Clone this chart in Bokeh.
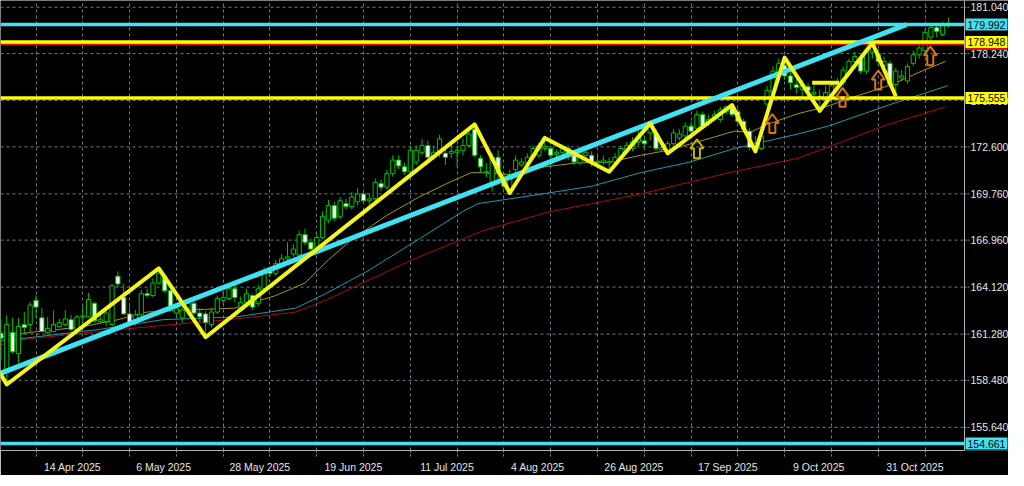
from bokeh.plotting import figure
from bokeh.models import Range1d, FixedTicker, Label
from bokeh.core.properties import value
from bokeh.embed import file_html
from bokeh.resources import INLINE

# ---------------- data ----------------
bar_open = [161.33,159.04,161.38,160.10,161.86,161.86,163.32,162.26,161.38,161.44,
            161.74,161.86,162.15,161.56,162.32,162.32,163.14,162.03,162.03,161.86,
            164.78,163.49,162.50,161.97,162.44,163.72,163.61,164.37,164.78,163.90,
            162.55,162.26,162.85,163.14,162.55,162.50,161.86,162.61,163.32,163.43,
            164.02,162.91,163.20,163.61,163.14,164.02,165.07,164.95,165.37,165.83,
            166.12,166.06,167.29,166.83,166.54,167.12,168.17,169.05,168.40,169.17,
            168.99,169.28,169.75,169.34,169.46,170.39,170.16,170.98,171.80,171.39,
            171.10,171.68,172.27,172.68,172.03,172.21,172.21,172.21,172.27,172.39,
            172.68,173.67,171.91,171.04,170.45,171.97,170.63,170.04,171.22,171.51,
            171.63,171.97,172.09,172.50,172.50,172.15,172.27,172.50,172.09,171.63,
            172.09,172.09,171.68,171.68,171.63,171.68,171.97,172.39,172.50,172.91,
            172.97,173.44,173.44,172.44,172.39,172.79,173.14,173.26,173.85,173.73,
            174.55,174.02,174.31,174.25,174.72,175.02,174.72,174.14,173.55,172.50,
            172.50,175.19,175.89,176.95,177.53,176.89,176.36,176.07,176.24,175.78,
            175.66,175.48,175.72,176.19,176.48,177.06,177.76,177.94,177.18,178.35,
            178.23,177.53,177.65,176.36,176.77,176.59,177.65,178.17,178.41,179.23,
            179.81,179.40,179.93]
bar_close = [161.03,161.86,160.21,161.74,161.68,163.03,162.91,161.44,161.62,161.86,
             161.97,162.20,161.56,162.32,162.38,163.37,162.09,162.15,162.55,164.20,
             164.31,162.50,161.97,162.44,163.72,163.61,164.37,164.95,163.90,162.91,
             162.85,162.73,163.14,162.55,162.32,161.97,162.61,163.43,163.49,164.02,
             163.49,163.20,163.72,162.91,164.02,165.07,164.95,165.54,165.83,165.95,
             166.42,167.29,166.83,166.42,167.12,168.40,169.05,168.29,169.34,168.99,
             169.57,169.75,169.34,169.46,170.45,170.16,170.98,171.80,171.45,171.10,
             172.39,172.39,172.68,171.97,172.27,173.08,171.97,172.33,172.39,172.68,
             173.38,172.09,171.39,171.10,171.97,171.04,170.22,170.92,171.80,171.68,
             171.97,172.50,172.68,172.62,172.09,172.27,172.56,172.03,171.68,172.27,
             172.27,171.68,171.74,171.80,171.68,171.97,172.50,172.68,172.91,173.26,
             172.79,173.85,172.50,172.56,172.79,173.44,173.38,173.85,173.55,174.55,
             173.85,174.25,174.55,174.84,175.02,174.55,174.14,173.67,172.56,172.79,
             173.26,176.01,177.18,177.65,176.89,176.48,176.19,176.30,176.01,175.89,
             175.54,175.89,176.30,176.48,177.24,177.76,178.06,177.18,178.35,178.64,
             177.76,177.76,176.36,177.18,176.89,177.47,178.17,178.58,179.52,179.81,
             179.58,179.93,180.05]
bar_high = [162.15,162.44,162.26,162.26,162.61,163.20,163.61,162.85,162.32,162.73,
            162.20,162.73,162.44,162.44,163.03,163.78,163.20,162.55,162.67,164.31,
            165.07,164.31,163.14,162.73,163.96,164.02,164.66,165.25,164.95,164.02,
            163.09,162.97,163.32,163.26,162.85,162.67,162.85,163.61,163.90,164.37,
            164.26,163.55,164.02,163.72,164.26,165.31,165.37,165.77,166.12,166.83,
            166.71,167.53,167.65,167.06,167.41,168.70,169.40,169.28,169.57,169.46,
            169.87,170.11,170.00,169.81,170.69,170.63,171.22,172.09,172.09,171.63,
            172.68,172.68,173.08,172.97,172.68,173.32,172.50,172.79,172.68,173.08,
            173.67,173.96,172.09,171.63,172.21,172.39,171.04,171.22,172.09,171.91,
            172.21,172.68,172.85,173.14,172.68,172.44,172.74,172.68,172.27,172.50,
            172.56,172.33,172.09,172.09,171.97,172.21,172.68,172.91,173.20,173.55,
            173.26,174.02,173.67,172.79,172.97,173.67,173.67,174.08,174.14,174.78,
            174.72,174.55,174.78,175.02,175.08,175.13,174.90,174.31,173.73,173.26,
            173.49,176.30,177.47,177.94,178.00,177.24,176.77,176.65,176.48,176.30,
            176.07,176.30,176.48,176.77,177.47,177.94,178.35,178.17,178.58,178.88,
            178.53,178.06,177.82,177.36,177.24,177.65,178.41,178.82,179.70,180.05,
            180.05,180.16,180.40]
bar_low = [159.69,158.23,160.10,159.52,161.27,161.38,162.26,161.38,161.27,161.38,
           161.68,161.74,161.44,161.27,161.97,162.26,161.97,161.97,161.74,161.74,
           164.08,162.44,161.86,161.80,162.32,163.49,163.49,164.26,163.78,162.73,
           162.38,161.97,162.55,162.44,161.97,161.09,161.68,162.50,163.09,163.32,
           163.20,162.73,162.97,162.73,162.97,163.90,164.72,164.78,165.25,165.66,
           165.95,165.89,166.65,166.24,166.36,167.00,168.00,168.12,168.23,168.81,
           168.81,169.05,169.17,169.11,169.34,169.93,170.00,170.80,171.27,170.92,
           170.92,171.51,172.09,171.57,171.80,171.97,171.51,171.91,171.39,172.09,
           172.56,171.97,171.04,170.75,169.90,170.34,170.04,169.81,170.92,171.39,
           171.39,171.80,171.91,172.33,171.39,171.97,172.09,171.80,171.51,171.51,
           171.91,171.39,171.39,171.51,171.10,171.51,171.80,172.21,172.33,172.68,
           172.56,172.97,172.33,172.27,172.21,172.68,172.97,173.08,173.38,173.61,
           173.67,173.85,174.14,174.08,174.55,174.43,173.96,173.49,172.39,172.33,
           172.39,175.02,175.78,176.77,176.65,176.07,175.83,175.66,175.60,175.37,
           174.78,175.31,175.25,176.01,176.30,176.89,177.59,177.00,177.00,177.94,
           177.53,177.24,176.19,175.66,176.59,176.42,177.47,177.94,178.23,178.99,
           179.23,179.29,179.81]

# moving averages (bar index, price)
ma_fast_idx = [0, 5, 10, 15, 20, 25, 32, 40, 47, 52, 56, 60, 66, 71.5, 77, 80.4, 82.4, 87, 93,
               98.4, 104, 109.4, 114, 119.8, 125.4, 128.2, 131, 136.3, 141, 146.7, 152.3, 157.8, 161.5]
ma_fast_val = [161.09, 161.38, 161.56, 161.80, 162.15, 162.61, 162.73, 162.85, 163.61, 164.37, 165.77,
               167.00, 168.46, 169.57, 170.51, 171.04, 171.04, 170.92, 171.39, 171.63, 171.68, 172.09,
               172.39, 172.97, 173.55, 173.49, 173.96, 174.61, 175.02, 175.72, 176.36, 177.24, 177.76]
ma_mid_idx = [0, 5.5, 16.8, 27.7, 40.3, 50.4, 55.5, 62.6, 69.8, 79, 81.6, 92.5, 101, 109.4, 117.8,
              125.4, 136.3, 141.4, 152.3, 161.9]
ma_mid_val = [160.86, 161.09, 161.56, 162.15, 162.32, 162.85, 163.72, 165.07, 166.65, 168.70, 169.17,
              169.75, 170.22, 171.04, 171.68, 172.50, 173.38, 173.85, 175.19, 176.30]
ma_slow_idx = [0, 4.5, 16.8, 27.7, 40.3, 50.4, 55.5, 70.3, 82.4, 93.4, 109.4, 124.5, 136.3, 151.8, 161.5]
ma_slow_val = [160.62, 160.98, 161.44, 161.80, 162.20, 162.61, 163.32, 165.77, 167.53, 168.64, 169.75,
               171.04, 171.91, 173.96, 175.02]

# zigzag swing points (bar index, price)
zz_idx = [-1.2, 1, 27, 35, 81, 87, 93, 104, 111, 114, 125, 129, 134, 140, 149, 153]
zz_val = [159.57, 158.23, 165.25, 161.09, 173.96, 169.81, 173.14, 171.10, 174.02, 172.21,
          175.13, 172.33, 178.00, 174.78, 178.88, 175.66]
flat_seg_idx = [138.7, 143.3]
flat_seg_val = [176.48, 176.48]

# trend channel line (bar index, price)
trend_idx = [-3, 154.8]
trend_val = [158.51, 179.99]

# horizontal levels
cyan_levels = [179.992, 154.661]
yellow_levels = [178.948, 175.555]
red_level = 178.85

# signal arrows (bar index, base price)
arrow_idx = [119, 131.9, 143.9, 150, 158.9]
arrow_val = [171.91, 173.44, 175.02, 176.07, 177.53]
arrow_col = ["#c8b400", "#d9731a", "#d9731a", "#d9731a", "#d9731a"]

# axis ticks
price_ticks = [155.64, 158.48, 161.28, 164.12, 166.96, 169.76, 172.60, 175.40, 178.24, 181.04]
date_tick_idx = [6, 22, 38, 54, 70, 86, 102, 118, 134, 150]
date_labels = ["14 Apr 2025", "6 May 2025", "28 May 2025", "19 Jun 2025", "11 Jul 2025",
               "4 Aug 2025", "26 Aug 2025", "17 Sep 2025", "9 Oct 2025", "31 Oct 2025"]
grid_idx = [6, 14, 22, 30, 38, 46, 54, 62, 70, 78, 86, 94, 102, 110, 118, 126, 134, 142, 150, 158]

# ---------------- layout constants ----------------
TOTAL_W, FRAME_H, BOTTOM = 1008, 450, 20
PLOT_W = 964                      # width of the price area inside the frame
X0, X1 = -0.07, 164.75            # visible bar range of the price area
Y0, Y1 = 154.24, 181.45
sx = (X1 - X0) / PLOT_W
sy = (Y1 - Y0) / FRAME_H
XE = X0 + TOTAL_W * sx            # right end of the frame (axis strip included)

FONT = "Liberation Sans"
GRID = "#6e7c8a"
GREEN = "#00c000"
CYAN = "#40e2f2"
YELLOW = "#ffff00"

p = figure(frame_width=TOTAL_W, frame_height=FRAME_H, x_range=Range1d(X0, XE), y_range=Range1d(Y0, Y1),
           y_axis_location=None, output_backend="svg", toolbar_location=None,
           background_fill_color="black", border_fill_color="black",
           min_border_left=0, min_border_top=0, min_border_right=0, min_border_bottom=BOTTOM)
p.outline_line_color = None
p.ygrid.visible = False

# vertical grid
p.xgrid.ticker = FixedTicker(ticks=grid_idx)
p.xgrid.grid_line_color = GRID
p.xgrid.grid_line_dash = "3 3"

# bottom date axis: labels start at their ticks, ticks drawn as minor marks
xa = p.xaxis[0]
label_pos = [t + (len(lab) * 2.65 + 7.5) * sx for t, lab in zip(date_tick_idx, date_labels)]
xa.ticker = FixedTicker(ticks=label_pos, minor_ticks=grid_idx)
xa.major_label_overrides = {pos: lab for pos, lab in zip(label_pos, date_labels)}
xa.bounds = (X0, X1)
xa.axis_line_color = "#b4b4b4"
xa.major_tick_line_color = None
xa.minor_tick_line_color = "#8a8a8a"
xa.minor_tick_line_dash = "2 2"
xa.minor_tick_out = 6
xa.minor_tick_in = 0
xa.major_label_standoff = 4
xa.major_label_text_color = "#e6e6e6"
xa.major_label_text_font = FONT
xa.major_label_text_font_size = "10.5px"

# horizontal grid (stops at the price-axis border)
p.segment([X0] * len(price_ticks), price_ticks, [X1] * len(price_ticks), price_ticks,
          line_color=GRID, line_dash="3 3", line_width=1)

# moving averages
p.line(ma_slow_idx, ma_slow_val, line_color="#a80c0c", line_width=1)
p.line(ma_mid_idx, ma_mid_val, line_color="#1d9aa6", line_width=1)
p.line(ma_fast_idx, ma_fast_val, line_color="#a49610", line_width=1)

# candles
idx = list(range(len(bar_close)))
p.segment(idx, bar_high, idx, bar_low, line_color=GREEN, line_width=1)
up = [i for i in idx if bar_close[i] >= bar_open[i]]
dn = [i for i in idx if bar_close[i] < bar_open[i]]
p.vbar(x=up, width=0.72, bottom=[bar_open[i] for i in up], top=[bar_close[i] for i in up],
       fill_color="black", line_color=GREEN, line_width=1)
p.vbar(x=dn, width=0.72, bottom=[bar_close[i] for i in dn], top=[bar_open[i] for i in dn],
       fill_color="white", line_color=GREEN, line_width=1)

# horizontal levels
p.segment([X0], [red_level], [X1], [red_level], line_color="#e01010", line_width=3)
p.segment([X0] * 2, yellow_levels, [X1] * 2, yellow_levels, line_color=YELLOW, line_width=3.5)
p.segment([X0] * 2, cyan_levels, [X1] * 2, cyan_levels, line_color=CYAN, line_width=3.5)

# trend line and zigzag
p.line(trend_idx, trend_val, line_color=CYAN, line_width=5)
p.line(zz_idx, zz_val, line_color="#f5f51e", line_width=4, line_join="round")
p.line(flat_seg_idx, flat_seg_val, line_color="#f5f51e", line_width=4)

# arrows (outline shapes anchored at data points)
shape_x = [-3, 3, 3, 6.5, 0, -6.5, -3]
shape_y = [0, 0, 10, 10, 19, 10, 10]
axs = [[a + d * sx for d in shape_x] for a in arrow_idx]
ays = [[b + d * sy for d in shape_y] for b in arrow_val]
p.patches(axs, ays, fill_alpha=0, line_color=arrow_col, line_width=2)

# price axis strip: border, tick marks and labels
p.segment([X1], [Y0], [X1], [Y1], line_color="#b4b4b4", line_width=1)
p.segment([X1] * len(price_ticks), price_ticks, [X1 + 5 * sx] * len(price_ticks), price_ticks,
          line_color="#8a8a8a", line_dash="2 1", line_width=1)
p.text(x=[X1] * len(price_ticks), y=price_ticks, text=[f"{t:.3f}" for t in price_ticks],
       x_offset=6, text_baseline="middle", text_align="left", text_color="#e6e6e6",
       text_font=value(FONT), text_font_size="10.5px")

# price tags
def tag(level, bg, yoff=0):
    p.add_layout(Label(x=X1, y=level, x_offset=1, y_offset=yoff, text=f"{level:.3f}",
                       text_baseline="middle", text_align="left", text_color="black",
                       text_font=FONT, text_font_size="10.5px",
                       background_fill_color=bg, padding=2))

tag(178.948, "#e01010", -2)
tag(178.948, YELLOW)
tag(179.992, CYAN)
tag(175.555, YELLOW)
tag(154.661, CYAN)

open("out.html", "w").write(file_html(p, INLINE))
